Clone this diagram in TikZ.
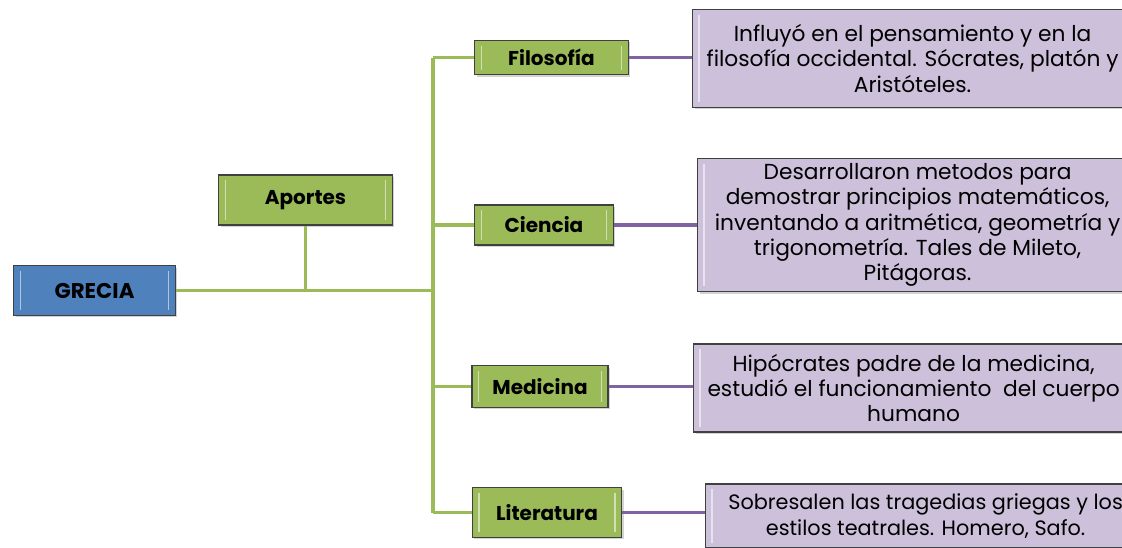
\documentclass[tikz,border=0pt]{standalone}
\usepackage{fontspec}
\setmainfont{Poppins}
\usepackage{xcolor}
\usetikzlibrary{positioning, shadows}

\definecolor{rootblue}{HTML}{4F81BD}
\definecolor{leafgreen}{HTML}{9BBB59}
\definecolor{notelilac}{HTML}{CCC0DA}
\definecolor{linkviolet}{HTML}{8064A2}

\begin{document}
\begin{tikzpicture}[x=0.75pt, y=-0.75pt]
\tikzstyle{bevel} = [path picture={
  \draw[white, opacity=0.55, line width=1.2pt]
    ([xshift=5pt, yshift=-4pt]path picture bounding box.north west) -- ([xshift=5pt, yshift=4pt]path picture bounding box.south west)
    ([xshift=-5pt, yshift=-4pt]path picture bounding box.north east) -- ([xshift=-5pt, yshift=4pt]path picture bounding box.south east);}]
\tikzstyle{box} = [rectangle, draw=black!75, line width=0.9pt, bevel, text centered, drop shadow={opacity=0.35, shadow xshift=1.5pt, shadow yshift=-1.5pt}]
\tikzstyle{root} = [box, fill=rootblue, inner sep=0pt, font=\bfseries\fontsize{16}{18}\selectfont]
\tikzstyle{topic} = [box, fill=leafgreen, inner sep=0pt, font=\bfseries\fontsize{15}{17}\selectfont]
\tikzstyle{note} = [box, fill=notelilac, anchor=west, minimum width=330pt, align=center, inner sep=0pt, font=\fontsize{16.3}{19}\selectfont]
\tikzstyle{gline} = [leafgreen, line width=2.6pt]
\tikzstyle{vline} = [linkviolet, line width=2.6pt]

\path[use as bounding box, clip] (0,0) rectangle (1122,547);

\node (grecia) [root, minimum width=121pt, minimum height=37pt] at (94.5,290.5) {GRECIA};
\node (aportes) [topic, minimum width=130pt, minimum height=37.5pt] at (305.5,200) {Aportes};
\coordinate (hub) at (433,291);

\node (filo) [topic, minimum width=115pt, minimum height=26pt] at (551.5,57.5) {Filosofía};
\node (cien) [topic, minimum width=104pt, minimum height=30pt] at (544,225) {Ciencia};
\node (medi) [topic, minimum width=102pt, minimum height=31pt] at (540,386.5) {Medicina};
\node (lite) [topic, minimum width=112pt, minimum height=37pt] at (547,512.5) {Literatura};

\node (filotext) [note, minimum height=73pt] at (692,58.5) {Influyó en el pensamiento y en la\\filosofía occidental. Sócrates, platón y\\Aristóteles.};
\node (cientext) [note, minimum height=100pt] at (697,225) {Desarrollaron metodos para\\demostrar principios matemáticos,\\inventando a aritmética, geometría y\\trigonometría. Tales de Mileto,\\Pitágoras.};
\node (meditext) [note, minimum height=66pt] at (693,388) {Hipócrates padre de la medicina,\\estudió el funcionamiento\ \ del cuerpo\\humano};
\node (litetext) [note, minimum height=48pt, font=\fontsize{15.6}{19}\selectfont] at (705,516) {Sobresalen las tragedias griegas y los\\estilos teatrales. Homero, Safo.};

% green tree
\draw [gline] (grecia.east) -- (grecia.east -| hub);
\draw [gline] (aportes.south) -- (aportes.south |- hub);
\draw [gline] (filo.west -| hub) -- (lite.west -| hub);
\draw [gline] (filo.west -| hub) -- (filo.west);
\draw [gline] (cien.west -| hub) -- (cien.west);
\draw [gline] (medi.west -| hub) -- (medi.west);
\draw [gline] (lite.west -| hub) -- (lite.west);

% violet links
\draw [vline] (filo.east) -- (filo.east -| filotext.west);
\draw [vline] (cien.east) -- (cien.east -| cientext.west);
\draw [vline] (medi.east) -- (medi.east -| meditext.west);
\draw [vline] (lite.east) -- (lite.east -| litetext.west);

\end{tikzpicture}
\end{document}
